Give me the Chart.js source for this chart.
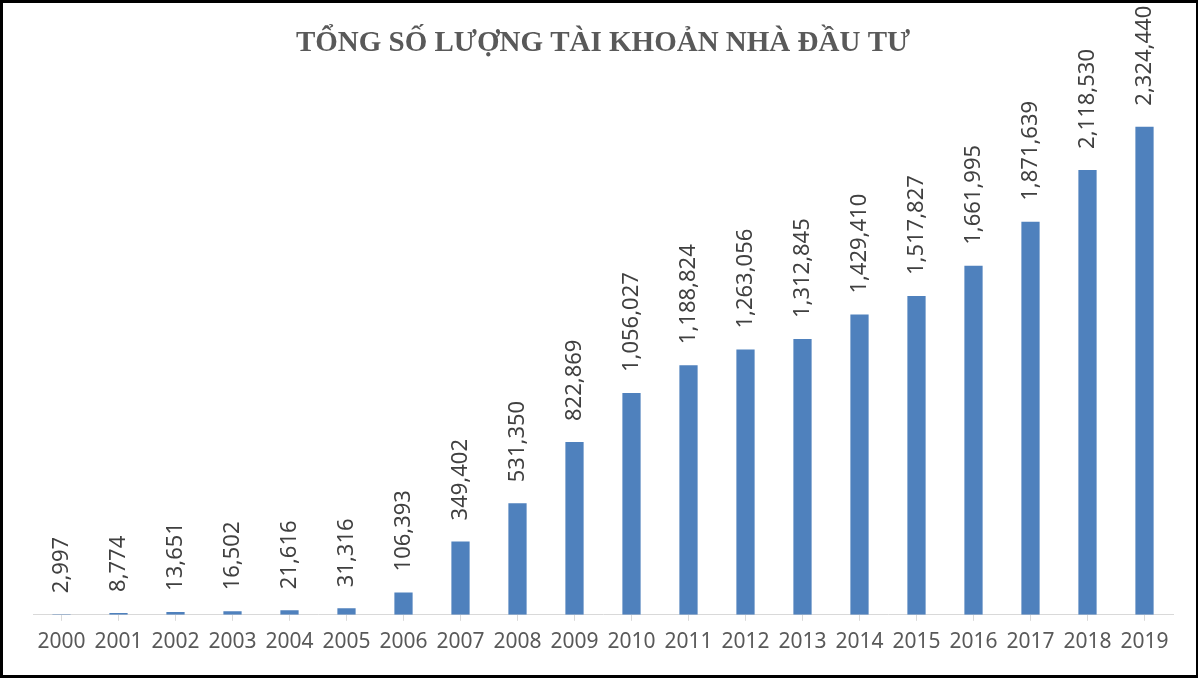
<!DOCTYPE html>
<html>
<head>
<meta charset="utf-8">
<script src="https://cdn.jsdelivr.net/npm/chart.js@4"></script>
<style>
  html, body { margin: 0; padding: 0; background: #fff; }
  #khung { width: 1198px; height: 678px; box-sizing: border-box; border: 3px solid #000; border-right: 2px solid #000; position: relative; }
  #khung canvas { display: block; }
</style>
</head>
<body>
<div id="khung"><canvas id="myChart" width="1193" height="672"></canvas></div>
<script>
let nam = ['2000','2001','2002','2003','2004','2005','2006','2007','2008','2009',
           '2010','2011','2012','2013','2014','2015','2016','2017','2018','2019'];
let soTaiKhoan = [2997, 8774, 13651, 16502, 21616, 31316, 106393, 349402, 531350, 822869,
                  1056027, 1188824, 1263056, 1312845, 1429410, 1517827, 1661995, 1871639, 2118530, 2324440];
let tieuDe = 'TỔNG SỐ LƯỢNG TÀI KHOẢN NHÀ ĐẦU TƯ';

/********************* nhan du lieu xoay doc ***********************/
const nhanDuLieu = {
  id: 'nhanDuLieu',
  afterDatasetsDraw(chart) {
    const ctx = chart.ctx;
    const meta = chart.getDatasetMeta(0);
    ctx.save();
    ctx.fillStyle = '#404040';
    ctx.font = '22px "Noto Sans"';
    ctx.textAlign = 'left';
    ctx.textBaseline = 'middle';
    meta.data.forEach(function(bar, i) {
      ctx.save();
      ctx.translate(bar.x, bar.y - 21);
      ctx.rotate(-Math.PI / 2);
      ctx.fillText(soTaiKhoan[i].toLocaleString('en-US'), 0, 0);
      ctx.restore();
    });
    ctx.restore();
  }
};

var ctx = document.getElementById('myChart');
var myChart = new Chart(ctx, {
  type: 'bar',
  data: {
    labels: nam,
    datasets: [{
      data: soTaiKhoan,
      backgroundColor: '#4f81bd',
      borderWidth: 0,
      barPercentage: 0.32,
      categoryPercentage: 1
    }]
  },
  options: {
    responsive: false,
    animation: false,
    layout: { padding: { left: 30, right: 23, top: 0, bottom: 11 } },
    scales: {
      x: {
        grid: { display: true, drawOnChartArea: false, offset: false, color: '#d9d9d9', tickLength: 6 },
        border: { color: '#d9d9d9', width: 1 },
        ticks: { color: '#595959', font: { family: 'Noto Sans', size: 21 }, padding: 9, maxRotation: 0, autoSkip: false }
      },
      y: {
        display: false,
        min: 0,
        max: 2500000
      }
    },
    plugins: {
      legend: { display: false },
      tooltip: { enabled: false },
      title: {
        display: true,
        text: tieuDe,
        color: '#595959',
        font: { family: 'Liberation Serif', size: 29, weight: 'bold' },
        padding: { top: 23, bottom: 29 }
      }
    }
  },
  plugins: [nhanDuLieu]
});
</script>
</body>
</html>
